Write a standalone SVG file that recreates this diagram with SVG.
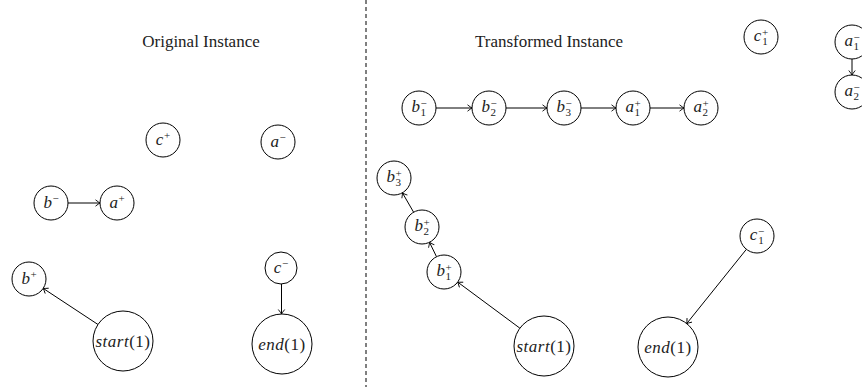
<svg xmlns="http://www.w3.org/2000/svg" width="862" height="387" viewBox="0 0 862 387">
<style>
circle{fill:#fff;stroke:#000;stroke-width:1}
.t{font-family:'Liberation Serif',serif;font-size:17px;fill:#222;text-anchor:middle}
.m{font-family:'Liberation Serif',serif;font-size:17px;font-style:italic;fill:#222;text-anchor:middle;letter-spacing:0.5px}
.s{font-size:11px;font-style:normal;letter-spacing:0}
.u{font-style:normal}
.c line{stroke:#000;stroke-width:1;marker-end:url(#ah)}
</style>
<defs>
<marker id="ah" markerUnits="userSpaceOnUse" markerWidth="10" markerHeight="10" viewBox="-6 -5 8 10" refX="0" refY="0" orient="auto">
<path d="M-4.5,-3.2 Q-1.2,-0.6 0,0 Q-1.2,0.6 -4.5,3.2" fill="none" stroke="#000" stroke-width="0.9"/>
</marker>
</defs>
<rect width="862" height="387" fill="#fff"/>
<line x1="366" y1="0" x2="366" y2="387" stroke="#000" stroke-width="1" stroke-dasharray="4,3"/>
<text class="t" x="201" y="47">Original Instance</text>
<text class="t" x="549" y="47">Transformed Instance</text>

<g class="c" id="connectors">
<line x1="68" y1="203" x2="100" y2="203"/>
<line x1="98" y1="324.5" x2="43.2" y2="288.4"/>
<line x1="281.5" y1="284" x2="281.5" y2="314"/>
<line x1="436" y1="108" x2="472" y2="108"/>
<line x1="506" y1="108" x2="547" y2="108"/>
<line x1="581" y1="108" x2="616" y2="108"/>
<line x1="650" y1="108" x2="684" y2="108"/>
<line x1="852" y1="59" x2="852" y2="75"/>
<line x1="519.9" y1="328.2" x2="457.7" y2="282.1"/>
<line x1="436.5" y1="256.7" x2="429.5" y2="242.3"/>
<line x1="413.6" y1="212.2" x2="402.4" y2="192.8"/>
<line x1="746.4" y1="249.3" x2="686.7" y2="323.6"/>
</g>

<g id="o-cplus"><circle cx="163" cy="140" r="17"/><text class="m" x="163" y="145">c<tspan class="s" dy="-6">+</tspan></text></g>
<g id="o-aminus"><circle cx="278" cy="142" r="17"/><text class="m" x="278" y="147">a<tspan class="s" dy="-6">−</tspan></text></g>
<g id="o-bminus"><circle cx="51" cy="203" r="17"/><text class="m" x="51" y="208">b<tspan class="s" dy="-6">−</tspan></text></g>
<g id="o-aplus"><circle cx="117" cy="203" r="17"/><text class="m" x="117" y="208">a<tspan class="s" dy="-6">+</tspan></text></g>
<g id="o-bplus"><circle cx="29" cy="279" r="17"/><text class="m" x="29" y="284">b<tspan class="s" dy="-6">+</tspan></text></g>
<g id="o-start"><circle cx="123" cy="341" r="30"/><text class="m" x="123" y="347">start<tspan class="u">(1)</tspan></text></g>
<g id="o-cminus"><circle cx="281" cy="268" r="16"/><text class="m" x="281" y="273">c<tspan class="s" dy="-6">−</tspan></text></g>
<g id="o-end"><circle cx="282" cy="344" r="30"/><text class="m" x="282" y="350">end<tspan class="u">(1)</tspan></text></g>

<g id="t-b1minus"><circle cx="419" cy="108" r="17"/><text class="m" x="419" y="112">b<tspan class="s" dy="-5">−</tspan><tspan class="s" dx="-6" dy="9">1</tspan></text></g>
<g id="t-b2minus"><circle cx="489" cy="108" r="17"/><text class="m" x="489" y="112">b<tspan class="s" dy="-5">−</tspan><tspan class="s" dx="-6" dy="9">2</tspan></text></g>
<g id="t-b3minus"><circle cx="564" cy="108" r="17"/><text class="m" x="564" y="112">b<tspan class="s" dy="-5">−</tspan><tspan class="s" dx="-6" dy="9">3</tspan></text></g>
<g id="t-a1plus"><circle cx="633" cy="108" r="17"/><text class="m" x="633" y="112">a<tspan class="s" dy="-5">+</tspan><tspan class="s" dx="-6" dy="9">1</tspan></text></g>
<g id="t-a2plus"><circle cx="701" cy="108" r="17"/><text class="m" x="701" y="112">a<tspan class="s" dy="-5">+</tspan><tspan class="s" dx="-6" dy="9">2</tspan></text></g>
<g id="t-c1plus"><circle cx="761" cy="37" r="17"/><text class="m" x="761" y="41">c<tspan class="s" dy="-5">+</tspan><tspan class="s" dx="-6" dy="9">1</tspan></text></g>
<g id="t-a1minus"><circle cx="852" cy="42" r="17"/><text class="m" x="852" y="46">a<tspan class="s" dy="-5">−</tspan><tspan class="s" dx="-6" dy="9">1</tspan></text></g>
<g id="t-a2minus"><circle cx="852" cy="92" r="17"/><text class="m" x="852" y="96">a<tspan class="s" dy="-5">−</tspan><tspan class="s" dx="-6" dy="9">2</tspan></text></g>
<g id="t-b3plus"><circle cx="394" cy="178" r="17"/><text class="m" x="394" y="182">b<tspan class="s" dy="-5">+</tspan><tspan class="s" dx="-6" dy="9">3</tspan></text></g>
<g id="t-b2plus"><circle cx="422" cy="227" r="17"/><text class="m" x="422" y="231">b<tspan class="s" dy="-5">+</tspan><tspan class="s" dx="-6" dy="9">2</tspan></text></g>
<g id="t-b1plus"><circle cx="444" cy="272" r="17"/><text class="m" x="444" y="276">b<tspan class="s" dy="-5">+</tspan><tspan class="s" dx="-6" dy="9">1</tspan></text></g>
<g id="t-start"><circle cx="544" cy="346" r="30"/><text class="m" x="544" y="352">start<tspan class="u">(1)</tspan></text></g>
<g id="t-c1minus"><circle cx="757" cy="236" r="17"/><text class="m" x="757" y="240">c<tspan class="s" dy="-5">−</tspan><tspan class="s" dx="-6" dy="9">1</tspan></text></g>
<g id="t-end"><circle cx="668" cy="347" r="30"/><text class="m" x="668" y="353">end<tspan class="u">(1)</tspan></text></g>
</svg>
